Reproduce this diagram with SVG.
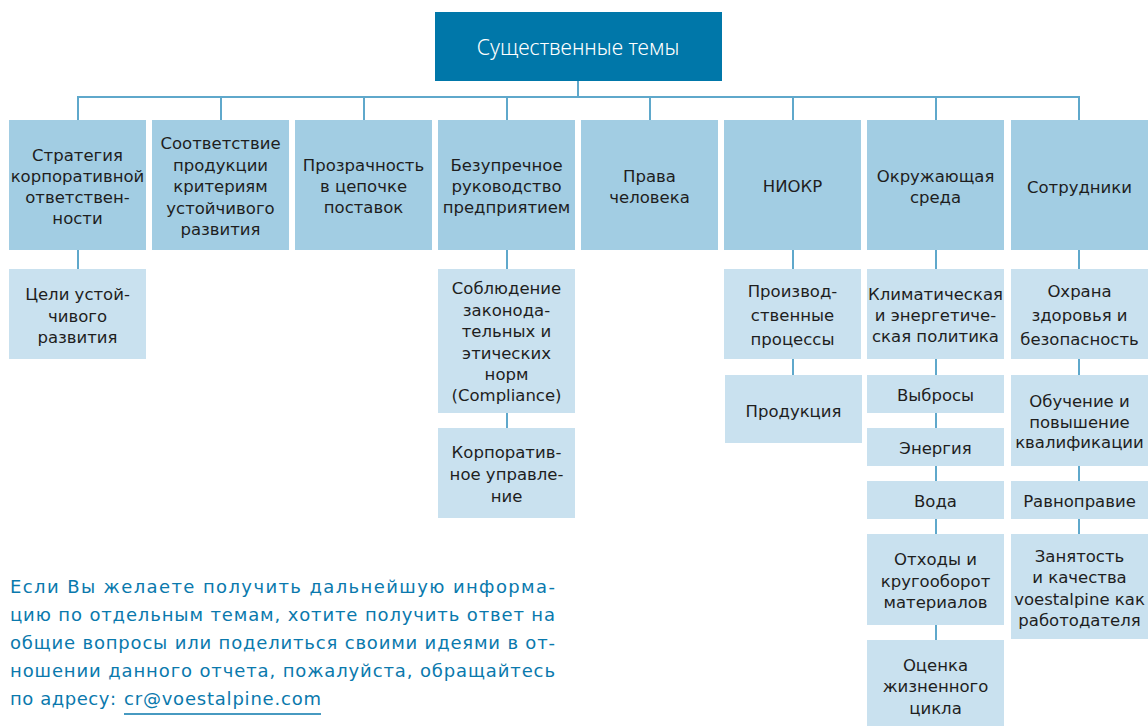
<svg xmlns="http://www.w3.org/2000/svg" width="1148" height="726" viewBox="0 0 1148 726">
<style>
.t{font-family:"DejaVu Sans","Noto Sans",sans-serif;font-size:16.5px;fill:#1e1e1e;text-anchor:middle}
.l1{fill:#a2cde3}
.l2{fill:#c9e1ef}
.c{stroke:#5fa8cb;stroke-width:2;fill:none}
.p{font-family:"DejaVu Sans","Noto Sans",sans-serif;font-size:18px;fill:#0a79ad}
</style>
<rect width="1148" height="726" fill="#ffffff"/>
<g id="connectors">
<path class="c" d="M578 80V97M77 97H1080M78 97V120M221 97V120M364 97V120M507 97V120M650 97V120M793 97V120M936 97V120M1079 97V120"/>
<path class="c" d="M78 250V269M507 250V269M507 412V428M793 250V269M793 359V375M936 250V269M936 359V375M936 412V428M936 465V481M936 518V534M936 625V640M1079 250V269M1079 359V375M1079 465V481M1079 518V534"/>
</g>
<g id="root"><rect x="435" y="12" width="287" height="69" fill="#0077a9"/><text class="t" x="578" y="55" style="fill:#ffffff;font-family:'Noto Sans',sans-serif;font-size:21px;font-weight:300">Существенные темы</text></g>
<g id="n1"><rect class="l1" x="9" y="120" width="137" height="130"/><text class="t"><tspan x="77.5" y="161">Стратегия</tspan><tspan x="77.5" y="182">корпоративной</tspan><tspan x="77.5" y="203">ответствен-</tspan><tspan x="77.5" y="224">ности</tspan></text></g>
<g id="n2"><rect class="l1" x="152" y="120" width="137" height="130"/><text class="t"><tspan x="220.5" y="149">Соответствие</tspan><tspan x="220.5" y="170.5">продукции</tspan><tspan x="220.5" y="192">критериям</tspan><tspan x="220.5" y="213.5">устойчивого</tspan><tspan x="220.5" y="235">развития</tspan></text></g>
<g id="n3"><rect class="l1" x="295" y="120" width="137" height="130"/><text class="t"><tspan x="363.5" y="171">Прозрачность</tspan><tspan x="363.5" y="192">в цепочке</tspan><tspan x="363.5" y="213">поставок</tspan></text></g>
<g id="n4"><rect class="l1" x="438" y="120" width="137" height="130"/><text class="t"><tspan x="506.5" y="171">Безупречное</tspan><tspan x="506.5" y="192">руководство</tspan><tspan x="506.5" y="213">предприятием</tspan></text></g>
<g id="n5"><rect class="l1" x="581" y="120" width="137" height="130"/><text class="t"><tspan x="649.5" y="182">Права</tspan><tspan x="649.5" y="203">человека</tspan></text></g>
<g id="n6"><rect class="l1" x="724" y="120" width="137" height="130"/><text class="t" x="792.5" y="192">НИОКР</text></g>
<g id="n7"><rect class="l1" x="867" y="120" width="137" height="130"/><text class="t"><tspan x="935.5" y="182">Окружающая</tspan><tspan x="935.5" y="203">среда</tspan></text></g>
<g id="n8"><rect class="l1" x="1011" y="120" width="137" height="130"/><text class="t" x="1079.5" y="193">Сотрудники</text></g>
<g id="n1a"><rect class="l2" x="9" y="269" width="137" height="90"/><text class="t"><tspan x="77.5" y="300">Цели устой-</tspan><tspan x="77.5" y="322">чивого</tspan><tspan x="77.5" y="343">развития</tspan></text></g>
<g id="n4a"><rect class="l2" x="438" y="269" width="137" height="144"/><text class="t"><tspan x="506.5" y="294">Соблюдение</tspan><tspan x="506.5" y="316">законода-</tspan><tspan x="506.5" y="337">тельных и</tspan><tspan x="506.5" y="359">этических</tspan><tspan x="506.5" y="380">норм</tspan><tspan x="506.5" y="401">(Compliance)</tspan></text></g>
<g id="n4b"><rect class="l2" x="438" y="428" width="137" height="90"/><text class="t"><tspan x="506.5" y="458">Корпоратив-</tspan><tspan x="506.5" y="480">ное управле-</tspan><tspan x="506.5" y="502">ние</tspan></text></g>
<g id="n6a"><rect class="l2" x="724" y="269" width="137" height="90"/><text class="t"><tspan x="792.5" y="297">Производ-</tspan><tspan x="792.5" y="321">ственные</tspan><tspan x="792.5" y="345">процессы</tspan></text></g>
<g id="n6b"><rect class="l2" x="725" y="375" width="137" height="68"/><text class="t" x="793.5" y="417">Продукция</text></g>
<g id="n7a"><rect class="l2" x="867" y="269" width="137" height="90"/><text class="t"><tspan x="935.5" y="300">Климатическая</tspan><tspan x="935.5" y="321">и энергетиче-</tspan><tspan x="935.5" y="342">ская политика</tspan></text></g>
<g id="n7b"><rect class="l2" x="867" y="375" width="137" height="38"/><text class="t" x="935.5" y="401">Выбросы</text></g>
<g id="n7c"><rect class="l2" x="867" y="428" width="137" height="38"/><text class="t" x="935.5" y="454">Энергия</text></g>
<g id="n7d"><rect class="l2" x="867" y="481" width="137" height="38"/><text class="t" x="935.5" y="507">Вода</text></g>
<g id="n7e"><rect class="l2" x="867" y="534" width="137" height="91"/><text class="t"><tspan x="935.5" y="565">Отходы и</tspan><tspan x="935.5" y="587">кругооборот</tspan><tspan x="935.5" y="608">материалов</tspan></text></g>
<g id="n7f"><rect class="l2" x="867" y="640" width="137" height="86"/><text class="t"><tspan x="935.5" y="671">Оценка</tspan><tspan x="935.5" y="692">жизненного</tspan><tspan x="935.5" y="714">цикла</tspan></text></g>
<g id="n8a"><rect class="l2" x="1011" y="269" width="137" height="90"/><text class="t"><tspan x="1079.5" y="297">Охрана</tspan><tspan x="1079.5" y="321">здоровья и</tspan><tspan x="1079.5" y="345">безопасность</tspan></text></g>
<g id="n8b"><rect class="l2" x="1011" y="375" width="137" height="91"/><text class="t"><tspan x="1079.5" y="407">Обучение и</tspan><tspan x="1079.5" y="428">повышение</tspan><tspan x="1079.5" y="448">квалификации</tspan></text></g>
<g id="n8c"><rect class="l2" x="1011" y="481" width="137" height="38"/><text class="t" x="1079.5" y="507">Равноправие</text></g>
<g id="n8d"><rect class="l2" x="1011" y="534" width="137" height="105"/><text class="t"><tspan x="1079.5" y="562">Занятость</tspan><tspan x="1079.5" y="583">и качества</tspan><tspan x="1079.5" y="605">voestalpine как</tspan><tspan x="1079.5" y="626">работодателя</tspan></text></g>
<g id="note">
<text class="p"><tspan x="10" y="593" textLength="545" lengthAdjust="spacing">Если Вы желаете получить дальнейшую информа-</tspan><tspan x="10" y="621" textLength="545" lengthAdjust="spacing">цию по отдельным темам, хотите получить ответ на</tspan><tspan x="10" y="649" textLength="545" lengthAdjust="spacing">общие вопросы или поделиться своими идеями в от-</tspan><tspan x="10" y="677" textLength="545" lengthAdjust="spacing">ношении данного отчета, пожалуйста, обращайтесь</tspan><tspan x="10" y="705" textLength="106" lengthAdjust="spacing">по адресу:</tspan><tspan x="124" y="705" textLength="197" lengthAdjust="spacing">cr@voestalpine.com</tspan></text>
<line x1="124" y1="714" x2="321" y2="714" stroke="#0a79ad" stroke-width="1.5"/>
</g>
</svg>
